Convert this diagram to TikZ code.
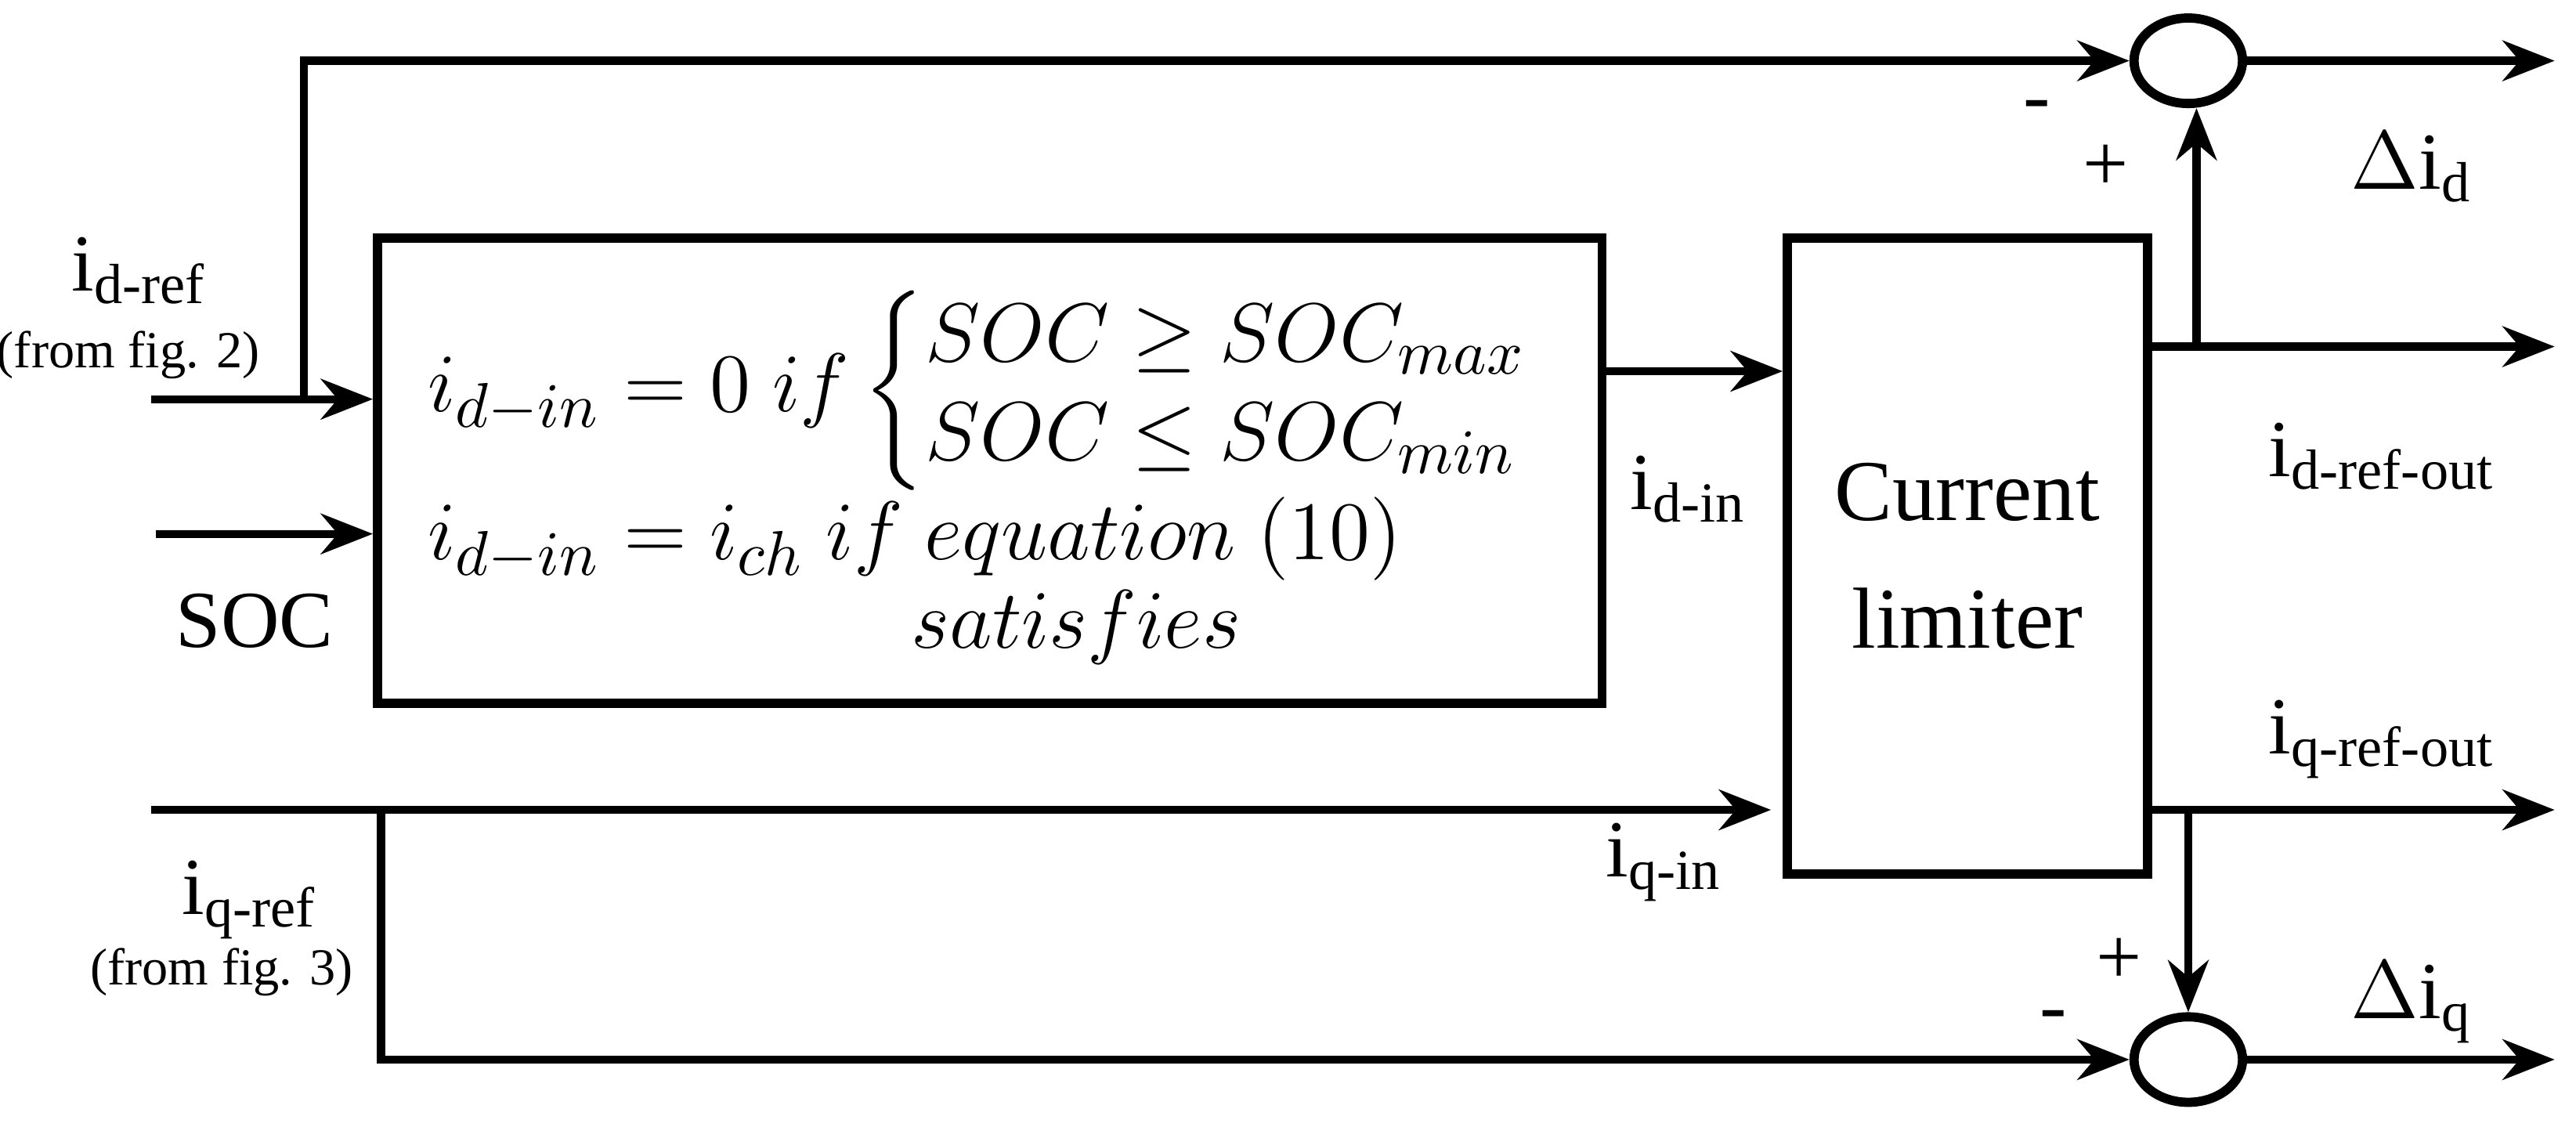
\documentclass[tikz,border=0pt]{standalone}
\usepackage{fontspec}
\setmainfont{Liberation Serif}
\usepackage{amsmath}
\usetikzlibrary{arrows.meta,shapes.geometric}
\begin{document}
\begin{tikzpicture}[x=0.01cm,y=-0.01cm,
  ln/.style={line width=1.4pt},
  ar/.style={ln,-{Stealth[length=9pt,width=7pt]}},
  blk/.style={draw,line width=1.6pt},
  sum/.style={draw,line width=1.6pt,ellipse,minimum width=0.66cm,minimum height=0.52cm,inner sep=0},
  lbl/.style={font=\fontsize{14}{16}\selectfont},
  sm/.style={font=\fontsize{9}{11}\selectfont},
  eqf/.style={font=\fontsize{15}{18}\selectfont}]
\useasboundingbox (0,0) rectangle (1568,686);
\node[blk,minimum width=7.45cm,minimum height=2.83cm] (eq) at (602.5,286.5) {};
\node[blk,minimum width=2.19cm,minimum height=3.87cm,align=center,font=\fontsize{15}{22}\selectfont] (cl) at (1197.5,338.5) {Current\\limiter};
\node[sum] (s1) at (1332,37) {};
\node[sum] (s2) at (1332,645) {};
% equations
\node[eqf,anchor=west] (e1) at (248,238) {$i_{d-in}=0\ if\left\{\renewcommand{\arraystretch}{0.95}\begin{array}{@{}l@{}}SOC\geq SOC_{max}\\ SOC\leq SOC_{min}\end{array}\right.$};
\node[eqf,anchor=west] (e2) at (248,328) {$i_{d-in}=i_{ch}\ if\ equation\ (10)$};
\node[eqf] (e3) at (655,382) {$satisfies$};
% coordinates
\coordinate (a0) at (92,243);
\coordinate (a1) at (185,243);
\coordinate (a2) at (185,37);
\coordinate (b0) at (95,325);
\coordinate (q0) at (92,493);
\coordinate (q1) at (232,493);
\coordinate (q2) at (232,645);
\coordinate (d1) at (1337,211);
\coordinate (d2) at (1555,211);
\coordinate (r1) at (1332,493);
\coordinate (r2) at (1555,493);
\coordinate (o1) at (1555,37);
\coordinate (o2) at (1555,645);
\draw[ar] (a0) -- (eq.west|-a0);
\draw[ar] (a1) -- (a2) -- (s1.west);
\draw[ar] (b0) -- (eq.west|-b0);
\draw[ar] (eq.east|-0,226) -- (cl.west|-0,226);
\draw[ar] (q0) -- (1078,493);
\draw[ar] (q1) -- (q2) -- (s2.west);
\draw[ar] (cl.east|-d1) -- (d2);
\draw[ar] (d1) -- (s1.south-|d1);
\draw[ar] (cl.east|-r1) -- (r2);
\draw[ar] (r1) -- (s2.north);
\draw[ar] (s1.east) -- (o1);
\draw[ar] (s2.east) -- (o2);
% labels
\node[lbl] (l1) at (85,165) {i\textsubscript{d-ref}};
\node[sm] (l2) at (78,216) {(from fig. 2)};
\node[lbl] (l3) at (155,378) {SOC};
\node[lbl] (l4) at (152,548) {i\textsubscript{q-ref}};
\node[sm] (l5) at (135,592) {(from fig. 3)};
\node[lbl] (l6) at (1028,298) {i\textsubscript{d-in}};
\node[lbl] (l7) at (1013,525) {i\textsubscript{q-in}};
\node[lbl] (l8) at (1450,278) {i\textsubscript{d-ref-out}};
\node[lbl] (l9) at (1450,450) {i\textsubscript{q-ref-out}};
\node[lbl] (l10) at (1468,102) {$\Delta$i\textsubscript{d}};
\node[lbl] (l11) at (1468,610) {$\Delta$i\textsubscript{q}};
\node[lbl] (p1) at (1240,68) {-};
\node[lbl] (p2) at (1282,102) {+};
\node[lbl] (p3) at (1290,585) {+};
\node[lbl] (p4) at (1250,622) {-};
\end{tikzpicture}
\end{document}
